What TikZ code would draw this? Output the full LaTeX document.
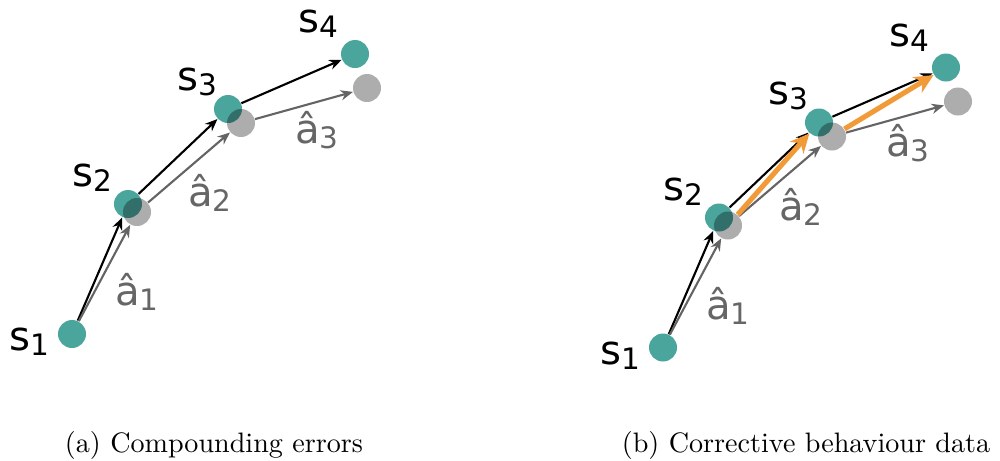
\documentclass[tikz,border=0pt]{standalone}
\usepackage{fontspec}
\newfontfamily\labfont{DejaVu Sans}
\usepackage{xcolor}
\usepackage{tikz}
\usetikzlibrary{arrows.meta,positioning}
\definecolor{dotteal}{RGB}{74,165,157}
\definecolor{predgray}{RGB}{100,100,100}
\definecolor{labgray}{RGB}{102,102,102}
\definecolor{corrorange}{RGB}{241,154,56}
% state label with a lowered subscript
\newcommand{\stlab}[2]{#1\raisebox{-1.8pt}{\fontsize{10.5}{12}\selectfont #2}}

\begin{document}
\begin{tikzpicture}[
  x=0.0125cm, y=-0.0125cm,
  dot/.style={circle, fill=dotteal, minimum size=0.35cm, inner sep=0pt},
  ghost/.style={circle, fill=black, fill opacity=0.32,
                minimum size=0.35cm, inner sep=0pt},
  lab/.style={font=\labfont\fontsize{14.3}{16}\selectfont, inner sep=0pt},
  hatlab/.style={lab, text=labgray},
  truearrow/.style={-{Stealth[length=4.4pt, width=3.6pt]}, line width=0.75pt, black},
  predarrow/.style={-{Stealth[length=4.4pt, width=3.6pt]}, line width=0.75pt, predgray},
  corrarrow/.style={-{Stealth[length=6.8pt, width=6.4pt]}, line width=1.8pt, corrorange},
]
\useasboundingbox (0,0) rectangle (1000,460);

%% (a) Compounding errors
\node[dot] (sa1) at (72,334) {};
\node[dot] (sa2) at (128,204) {};
\node[dot] (sa3) at (228,109) {};
\node[dot] (sa4) at (355,54) {};
\node[ghost] (ga2) at (137,212) {};
\node[ghost] (ga3) at (241,123) {};
\node[ghost] (ga4) at (367,88) {};

\node[lab] (la1) at (29,342) {\stlab{s}{1}};
\node[lab] (la2) at (92,178) {\stlab{s}{2}};
\node[lab] (la3) at (197,82) {\stlab{s}{3}};
\node[lab] (la4) at (318,24) {\stlab{s}{4}};
\node[hatlab] (ha1) at (137,292) {\stlab{â}{1}};
\node[hatlab] (ha2) at (210,193) {\stlab{â}{2}};
\node[hatlab] (ha3) at (317,130) {\stlab{â}{3}};

\draw[truearrow] (sa1) -- (sa2);
\draw[truearrow] (sa2) -- (sa3);
\draw[truearrow] (sa3) -- (sa4);
\draw[predarrow] (sa1) -- (ga2);
\draw[predarrow] (ga2) -- (ga3);
\draw[predarrow] (ga3) -- (ga4);

\node[anchor=base] (capa) at (214,452) {(a) Compounding errors};

%% (b) Corrective behaviour data
\begin{scope}[shift={(591,13.5)}]
\node[dot] (sb1) at (72,334) {};
\node[dot] (sb2) at (128,204) {};
\node[dot] (sb3) at (228,109) {};
\node[dot] (sb4) at (355,54) {};
\node[ghost] (gb2) at (137,212) {};
\node[ghost] (gb3) at (241,123) {};
\node[ghost] (gb4) at (367,88) {};

\node[lab] (lb1) at (29,342) {\stlab{s}{1}};
\node[lab] (lb2) at (92,178) {\stlab{s}{2}};
\node[lab] (lb3) at (197,82) {\stlab{s}{3}};
\node[lab] (lb4) at (318,24) {\stlab{s}{4}};
\node[hatlab] (hb1) at (137,292) {\stlab{â}{1}};
\node[hatlab] (hb2) at (210,193) {\stlab{â}{2}};
\node[hatlab] (hb3) at (317,130) {\stlab{â}{3}};

\draw[truearrow] (sb1) -- (sb2);
\draw[truearrow] (sb2) -- (sb3);
\draw[truearrow] (sb3) -- (sb4);
\draw[predarrow] (sb1) -- (gb2);
\draw[predarrow] (gb2) -- (gb3);
\draw[predarrow] (gb3) -- (gb4);

%% corrections back to the true states
\draw[corrarrow] (gb2) -- (sb3);
\draw[corrarrow] (gb3) -- (sb4);
\end{scope}

\node[anchor=base] (capb) at (806,452) {(b) Corrective behaviour data};

\end{tikzpicture}
\end{document}
